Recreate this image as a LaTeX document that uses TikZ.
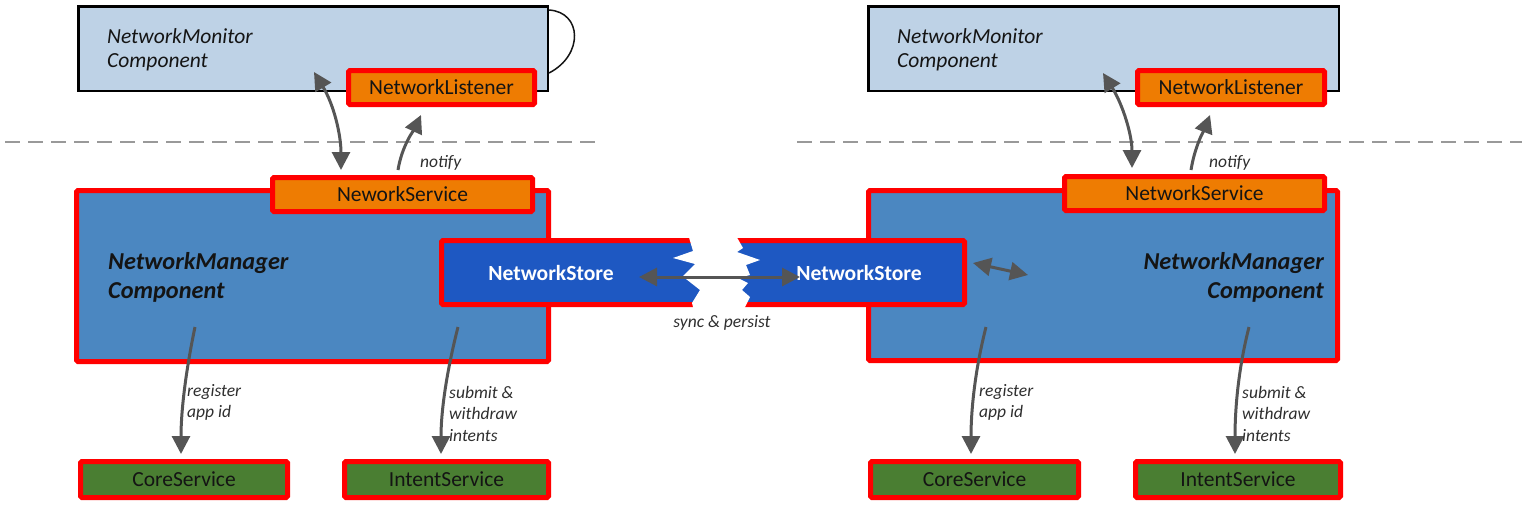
\documentclass[tikz,border=0pt]{standalone}
\usepackage{fontspec}
\setmainfont{Carlito}
\usetikzlibrary{arrows.meta}
\definecolor{monfill}{HTML}{BED2E6}
\definecolor{mgrfill}{HTML}{4B87C1}
\definecolor{storefill}{HTML}{1E58C2}
\definecolor{orangefill}{HTML}{EE7C02}
\definecolor{greenfill}{HTML}{4A7E32}
\definecolor{boxred}{HTML}{FF0000}
\definecolor{arrowgray}{HTML}{555555}
\definecolor{dashgray}{HTML}{999999}
\definecolor{txtdark}{HTML}{141414}
\definecolor{lbldark}{HTML}{2E2E2E}
\tikzset{
  redbox/.style={draw=boxred, line width=5pt, rounded corners=1.5pt, inner sep=0pt,
    font=\fontsize{21.5}{24}\selectfont, text=txtdark},
  monbox/.style={draw=black, fill=monfill, line width=2.5pt, inner sep=0pt, minimum width=469.5pt, minimum height=84.5pt},
  listenerbox/.style={redbox, fill=orangefill, minimum height=34pt},
  mgrbox/.style={redbox, fill=mgrfill},
  storebox/.style={redbox, fill=storefill, minimum height=64pt, text=white, font=\fontsize{21.6}{24}\selectfont\bfseries},
  svcbox/.style={redbox, fill=greenfill, minimum height=36pt},
  montext/.style={anchor=west, inner sep=0pt, align=left, text=txtdark, font=\fontsize{21.5}{24}\selectfont\itshape},
  mgrtext/.style={inner sep=0pt, text=txtdark, font=\fontsize{24.3}{29}\selectfont\bfseries\itshape},
  lbl/.style={inner sep=0pt, text=lbldark, font=\fontsize{17.5}{21.5}\selectfont\itshape},
  conn/.style={draw=arrowgray, line width=3pt, -{Triangle[length=18pt,width=18pt]}},
  biconn/.style={draw=arrowgray, line width=3pt, {Triangle[length=18pt,width=18pt]}-{Triangle[length=18pt,width=18pt]}},
  sep/.style={draw=dashgray, line width=2.8pt, dash pattern=on 15pt off 8pt},
}
\begin{document}
\begin{tikzpicture}[x=1pt,y=-1pt]
\useasboundingbox (0,0) rectangle (1522,504);

% separators
\coordinate (sepL1) at (5,142);
\coordinate (sepL2) at (600,142);
\coordinate (sepR1) at (797,142);
\coordinate (sepR2) at (1522,142);
\draw[sep] (sepL1) -- (sepL2);
\draw[sep] (sepR1) -- (sepR2);

% ---------- left side ----------
\node[monbox] (monL) at (313,48.5) {};
\draw[line width=1.5pt, draw=txtdark] (monL.north east) ++(0,5) .. controls +(33,2) and +(35,-18) .. ++(0,63);
\node[listenerbox, minimum width=186pt] (listL) at (441.5,87.5) {NetworkListener};
\node[montext] (montxtL) at (107,50) {NetworkMonitor\\Component};

\node[mgrbox, minimum width=472pt, minimum height=171pt] (mgrL) at (312.5,276) {};
\node[listenerbox, minimum width=260pt] (nsL) at (402.5,194.5) {NeworkService};
\node[mgrtext, anchor=west, align=left] (mgrtxtL) at (108,277.5) {NetworkManager\\Component};

\node[storebox, minimum width=272pt] (storeL) at (577.5,272.5) {NetworkStore\hspace*{53pt}};

\node[svcbox, minimum width=207pt] (coreL) at (184,479.5) {CoreService};
\node[svcbox, minimum width=204pt] (intL) at (446.5,479.5) {IntentService};

% ---------- right side ----------
\node[monbox, minimum width=470.5pt] (monR) at (1103.5,48.5) {};
\node[listenerbox, minimum width=187pt] (listR) at (1231,87.5) {NetworkListener};
\node[montext] (montxtR) at (897,50) {NetworkMonitor\\Component};

\node[mgrbox, minimum width=469pt, minimum height=170pt] (mgrR) at (1103,275.5) {};
\node[listenerbox, minimum width=260pt] (nsR) at (1194.5,193.5) {NetworkService};
\node[mgrtext, anchor=east, align=right] (mgrtxtR) at (1324,277.5) {NetworkManager\\Component};

\node[storebox, minimum width=246pt] (storeR) at (841.5,272.5) {\hspace*{35pt}NetworkStore};

\node[svcbox, minimum width=208pt] (coreR) at (974.5,479.5) {CoreService};
\node[svcbox, minimum width=205pt] (intR) at (1238,479.5) {IntentService};

% torn gap between the two stores
\fill[white] (688,234) -- (693,251) -- (673,258) -- (695,264) -- (683,276) -- (686,279)
  -- (700,290) -- (692,303) -- (694,311) -- (743,311) -- (750,297) -- (742,290)
  -- (748,283) -- (738,278) -- (750,275) -- (746,265) -- (760,260) -- (737,252)
  -- (743,248) -- (735,234) -- cycle;

% ---------- connectors ----------
\coordinate (bL1) at (314,72);  \coordinate (bL2) at (341,170);
\draw[biconn] (bL1) .. controls (334,105) and (341,135) .. (bL2);
\coordinate (nL1) at (398,170); \coordinate (nL2) at (421,115);
\draw[conn] (nL1) .. controls (402,145) and (415,128) .. (nL2);
\node[lbl, anchor=west] (notifyL) at (420,163) {notify};

\coordinate (bR1) at (1103,73); \coordinate (bR2) at (1132,168);
\draw[biconn] (bR1) .. controls (1123,105) and (1132,135) .. (bR2);
\coordinate (nR1) at (1191,170); \coordinate (nR2) at (1210,115);
\draw[conn] (nR1) .. controls (1195,145) and (1205,128) .. (nR2);
\node[lbl, anchor=west] (notifyR) at (1209,163) {notify};

\coordinate (sy1) at (639,277); \coordinate (sy2) at (800,277);
\draw[biconn] (sy1) -- (sy2);
\node[lbl] (synclbl) at (722,323) {sync \& persist};

\coordinate (sm1) at (973,263); \coordinate (sm2) at (1028,275);
\draw[biconn] (sm1) -- (sm2);

\coordinate (rL1) at (195,327); \coordinate (rL2) at (181,454);
\draw[conn] (rL1) .. controls (186,370) and (181,410) .. (rL2);
\node[lbl, anchor=west, align=left] (regL) at (187,402.5) {register\\app id};

\coordinate (iL1) at (458,327); \coordinate (iL2) at (441,454);
\draw[conn] (iL1) .. controls (447,370) and (441,410) .. (iL2);
\node[lbl, anchor=west, align=left] (subL) at (449,413.5) {submit \&\\withdraw\\intents};

\coordinate (rR1) at (986,327); \coordinate (rR2) at (971,454);
\draw[conn] (rR1) .. controls (975,370) and (971,410) .. (rR2);
\node[lbl, anchor=west, align=left] (regR) at (979,402.5) {register\\app id};

\coordinate (iR1) at (1249,327); \coordinate (iR2) at (1235,454);
\draw[conn] (iR1) .. controls (1238,370) and (1235,410) .. (iR2);
\node[lbl, anchor=west, align=left] (subR) at (1242,413.5) {submit \&\\withdraw\\intents};
\end{tikzpicture}
\end{document}
